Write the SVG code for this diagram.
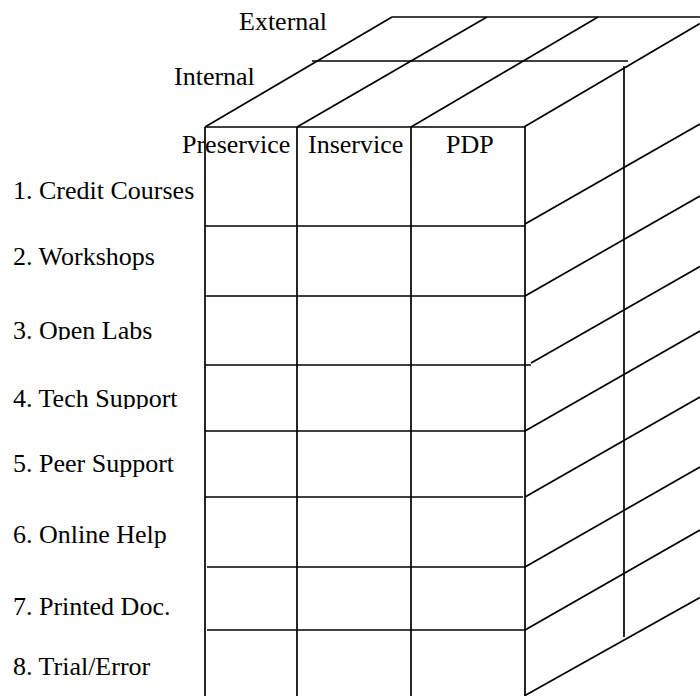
<svg xmlns="http://www.w3.org/2000/svg" width="700" height="696" viewBox="0 0 700 696">
  <style>
    .ln { stroke: #000; stroke-width: 1.7; fill: none; stroke-linecap: butt; }
    .lbl { font-family: "Liberation Serif", "Times New Roman", serif; font-size: 26px; fill: #000; }
  </style>
  <defs>
    <!-- text boxes that crop the descenders of two row labels -->
    <clipPath id="clip-row3"><rect x="0" y="300" width="204" height="40"/></clipPath>
    <clipPath id="clip-row4"><rect x="0" y="370" width="204" height="39"/></clipPath>
  </defs>
  <rect width="700" height="696" fill="#fff"/>

  <!-- top face of the cube -->
  <g id="top-face" class="ln">
    <line x1="392" y1="17" x2="700" y2="17"/>
    <line x1="312" y1="61" x2="628" y2="61"/>
    <line x1="205" y1="127" x2="392" y2="17"/>
    <line x1="297" y1="127" x2="487" y2="17"/>
    <line x1="411" y1="127" x2="598" y2="17"/>
    <line x1="524" y1="127" x2="700" y2="23.5"/>
  </g>

  <!-- front face grid -->
  <g id="front-face" class="ln">
    <line x1="205" y1="127" x2="525" y2="127"/>
    <line x1="205" y1="127" x2="205" y2="696"/>
    <line x1="297" y1="127" x2="297" y2="696"/>
    <line x1="411" y1="127" x2="411" y2="696"/>
    <line x1="525" y1="127" x2="525" y2="696"/>
    <line x1="205" y1="226" x2="525" y2="226"/>
    <line x1="205" y1="296" x2="525" y2="296"/>
    <line x1="205" y1="365" x2="531" y2="365"/>
    <line x1="205" y1="431" x2="525" y2="431"/>
    <line x1="205" y1="497" x2="523" y2="497"/>
    <line x1="207" y1="567" x2="525" y2="567"/>
    <line x1="207" y1="630" x2="525" y2="630"/>
  </g>

  <!-- right side face -->
  <g id="side-face" class="ln">
    <line x1="624" y1="66" x2="624" y2="637"/>
    <line x1="525" y1="224" x2="700" y2="124"/>
    <line x1="525" y1="296" x2="700" y2="196"/>
    <line x1="531" y1="363" x2="700" y2="266.5"/>
    <line x1="525" y1="431" x2="700" y2="331"/>
    <line x1="525" y1="497" x2="700" y2="397"/>
    <line x1="525" y1="567" x2="700" y2="467"/>
    <line x1="525" y1="630" x2="700" y2="530"/>
    <line x1="525" y1="695.5" x2="700" y2="597.5"/>
  </g>

  <!-- depth labels -->
  <g id="depth-labels" class="lbl">
    <text x="239" y="30">External</text>
    <text x="174" y="85">Internal</text>
  </g>

  <!-- column headers -->
  <g id="column-headers" class="lbl">
    <text x="182" y="153">Preservice</text>
    <text x="308" y="153">Inservice</text>
    <text x="446" y="153">PDP</text>
  </g>

  <!-- row labels -->
  <g id="row-labels" class="lbl">
    <text x="13" y="199">1. Credit Courses</text>
    <text x="13" y="265">2. Workshops</text>
    <text x="13" y="339" clip-path="url(#clip-row3)">3. Open Labs</text>
    <text x="13" y="407" clip-path="url(#clip-row4)">4. Tech Support</text>
    <text x="13" y="472">5. Peer Support</text>
    <text x="13" y="543">6. Online Help</text>
    <text x="13" y="615">7. Printed Doc.</text>
    <text x="13" y="675">8. Trial/Error</text>
  </g>
</svg>
